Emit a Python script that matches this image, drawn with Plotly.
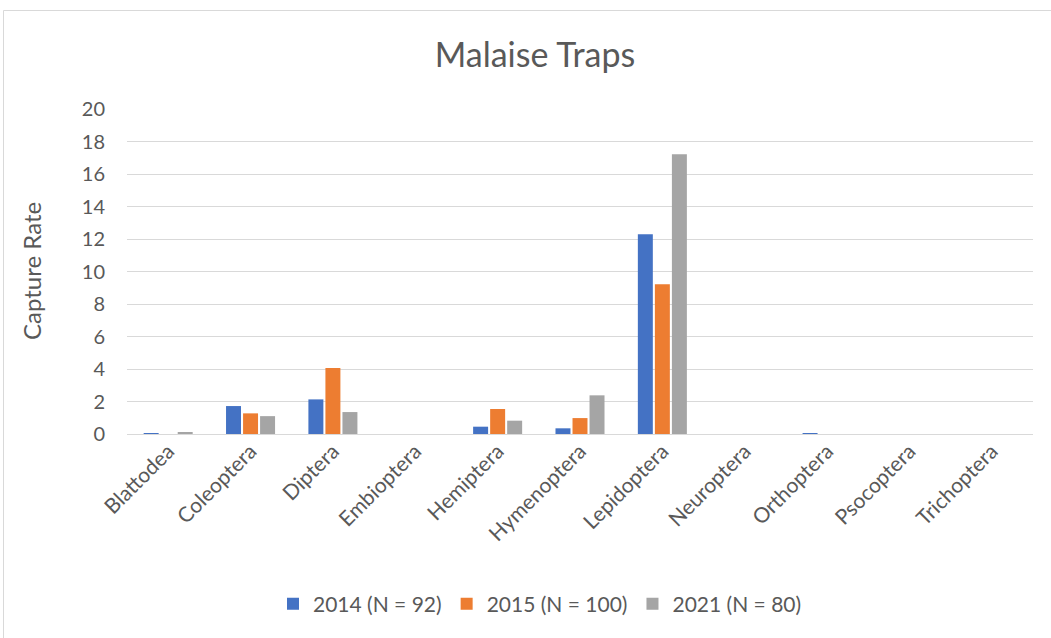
import plotly.graph_objects as go

# Capture rates by insect order for each Malaise trap season
orders = ["Blattodea", "Coleoptera", "Diptera", "Embioptera", "Hemiptera",
          "Hymenoptera", "Lepidoptera", "Neuroptera", "Orthoptera",
          "Psocoptera", "Trichoptera"]
rate_2014 = [0.03, 1.72, 2.13, 0, 0.45, 0.35, 12.29, 0, 0.02, 0, 0]
rate_2015 = [0, 1.27, 4.06, 0, 1.54, 0.98, 9.21, 0, 0, 0, 0]
rate_2021 = [0.12, 1.10, 1.35, 0, 0.82, 2.38, 17.21, 0, 0, 0, 0]

series_names = ["2014 (N = 92)", "2015 (N = 100)", "2021 (N = 80)"]
series_colors = ["#4472C4", "#ED7D31", "#A5A5A5"]
y_ticks = [0, 2, 4, 6, 8, 10, 12, 14, 16, 18, 20]

FONT = "Lato, Open Sans, sans-serif"
TEXT = "#595959"

W, H = 1051, 638
L, R, T, B = 127, 18, 109, 204
PW, PH = W - L - R, H - T - B

fig = go.Figure()
for name, color, vals in zip(series_names, series_colors,
                             [rate_2014, rate_2015, rate_2021]):
    fig.add_trace(go.Bar(x=orders, y=vals, name=name,
                         marker=dict(color=color, line=dict(width=0))))


def px_x(p):
    return (p - L) / PW


def px_y(p):
    return (H - B - p) / PH


fig.update_layout(
    width=W, height=H,
    margin=dict(l=L, r=R, t=T, b=B, autoexpand=False),
    paper_bgcolor="white", plot_bgcolor="white",
    barmode="group", bargap=0.38, bargroupgap=0.12,
    font=dict(family=FONT, color=TEXT, size=20),
    title=dict(text="Malaise Traps", x=535 / W, xanchor="center",
               y=1 - 55 / H, yanchor="middle",
               font=dict(size=34, color=TEXT, family=FONT)),
    xaxis=dict(tickangle=-45, showgrid=False, showline=False, ticks="",
               tickfont=dict(size=21, color=TEXT), ticklabelstandoff=0),
    yaxis=dict(range=[0, 20], tickvals=y_ticks, showgrid=True,
               gridcolor="#D9D9D9", gridwidth=1, zeroline=True,
               zerolinecolor="#D9D9D9", zerolinewidth=1, ticks="",
               tickfont=dict(size=20, color=TEXT), ticklabelstandoff=21),
    legend=dict(orientation="h", x=px_x(540), xanchor="center",
                y=px_y(604), yanchor="middle",
                font=dict(size=21, color=TEXT), itemwidth=30),
    showlegend=True,
)

fig.add_annotation(text="Capture Rate", xref="paper", yref="paper",
                   x=px_x(31), y=px_y(271), xanchor="center", yanchor="middle",
                   textangle=-90, showarrow=False,
                   font=dict(size=24, color=TEXT, family=FONT))

# Chart-area frame
fig.add_shape(type="rect", xref="paper", yref="paper",
              x0=px_x(3.5), x1=px_x(W + 20), y0=px_y(H + 20), y1=px_y(10.5),
              line=dict(color="#D9D9D9", width=1), fillcolor="rgba(0,0,0,0)",
              layer="below")

fig.write_html("out.html")
